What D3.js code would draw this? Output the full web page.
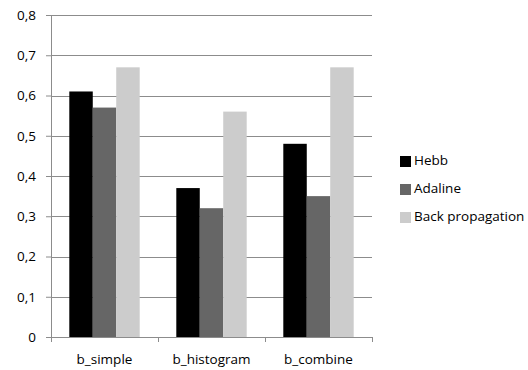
<!DOCTYPE html>
<html>
<head>
<meta charset="utf-8">
<script src="https://cdn.jsdelivr.net/npm/d3@7/dist/d3.min.js"></script>
<style>
  html, body { margin: 0; padding: 0; background: #fff; }
  svg { display: block; }
  text { font-family: "Open Sans", "Liberation Sans", sans-serif; fill: #000; }
</style>
</head>
<body>
<svg id="chart" width="528" height="370"></svg>
<script>
// Classification scores for each feature set and training method
const categories = ["b_simple", "b_histogram", "b_combine"];
const seriesNames = ["Hebb", "Adaline", "Back propagation"];
const hebb = [0.61, 0.37, 0.48];
const adaline = [0.57, 0.32, 0.35];
const backprop = [0.67, 0.56, 0.67];
const yTicks = [0, 0.1, 0.2, 0.3, 0.4, 0.5, 0.6, 0.7, 0.8];
const colors = ["#000000", "#666666", "#cccccc"];

const seriesValues = [hebb, adaline, backprop];

const svg = d3.select("#chart");
const margin = { left: 51, right: 156, top: 15, bottom: 33 };
const width = 528 - margin.left - margin.right;
const height = 370 - margin.top - margin.bottom;

const g = svg.append("g").attr("transform", `translate(${margin.left},${margin.top})`);

const x = d3.scaleBand().domain(categories).range([0, width]).paddingInner(0).paddingOuter(0);
const xInner = d3.scaleBand().domain(seriesNames).range([0, x.bandwidth()]).paddingInner(0).paddingOuter(0.78);
const y = d3.scaleLinear().domain([0, 0.8]).range([height, 0]);

// Horizontal gridlines
g.append("g")
  .selectAll("line")
  .data(yTicks.filter(t => t > 0))
  .join("line")
  .attr("x1", 0).attr("x2", width)
  .attr("y1", d => Math.round(y(d)) + 0.5).attr("y2", d => Math.round(y(d)) + 0.5)
  .attr("stroke", "#8c8c8c").attr("stroke-width", 1);

// Bars
categories.forEach((cat, ci) => {
  seriesNames.forEach((s, si) => {
    const v = seriesValues[si][ci];
    g.append("rect")
      .attr("x", x(cat) + xInner(s))
      .attr("y", y(v))
      .attr("width", xInner.bandwidth())
      .attr("height", height - y(v))
      .attr("fill", colors[si]);
  });
});

// Y axis
const yAxis = g.append("g")
  .call(d3.axisLeft(y).tickValues(yTicks).tickSize(5).tickPadding(10)
    .tickFormat(d => d3.format(".1f")(d).replace(".", ",").replace(/^0,0$/, "0")));
yAxis.select(".domain").attr("stroke", "#8c8c8c").attr("d", `M0.5,0V${height}`);
yAxis.selectAll(".tick line").attr("stroke", "#8c8c8c");
yAxis.selectAll("text").attr("font-size", 13.5).attr("fill", "#000");

// X axis with ticks on the category boundaries
const xAxisG = g.append("g").attr("transform", `translate(0,${height})`);
xAxisG.append("line")
  .attr("x1", 0).attr("x2", width).attr("y1", 0.5).attr("y2", 0.5)
  .attr("stroke", "#8c8c8c");
const bounds = categories.map(c => x(c)).concat([width]);
xAxisG.selectAll("line.tk").data(bounds).join("line")
  .attr("class", "tk")
  .attr("x1", d => Math.round(d) + 0.5).attr("x2", d => Math.round(d) + 0.5)
  .attr("y1", 0).attr("y2", 5)
  .attr("stroke", "#8c8c8c");
xAxisG.selectAll("text").data(categories).join("text")
  .attr("x", d => x(d) + x.bandwidth() / 2)
  .attr("y", 23)
  .attr("text-anchor", "middle")
  .attr("dominant-baseline", "middle")
  .attr("font-size", 13.5)
  .text(d => d);

// Legend
const legend = svg.append("g").attr("transform", "translate(400,161)");
seriesNames.forEach((s, i) => {
  const row = legend.append("g").attr("transform", `translate(0,${i * 28})`);
  row.append("rect").attr("x", 0).attr("y", -5).attr("width", 11).attr("height", 11).attr("fill", colors[i]);
  row.append("text").attr("x", 14).attr("y", 0.5)
    .attr("dominant-baseline", "middle").attr("font-size", 13.5).text(s);
});
</script>
</body>
</html>
